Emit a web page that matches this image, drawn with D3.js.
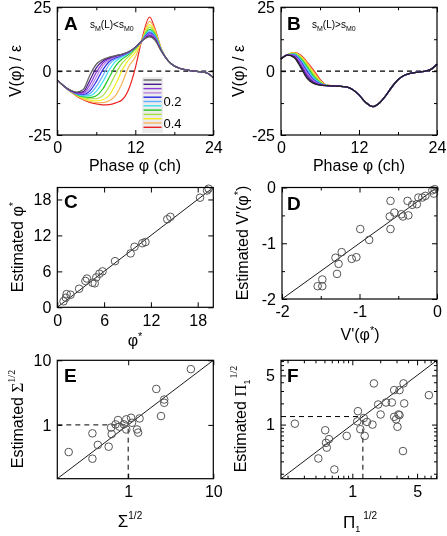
<!DOCTYPE html>
<html><head><meta charset="utf-8">
<script src="https://cdn.jsdelivr.net/npm/d3@7"></script>
<style>
body{margin:0;background:#fff}
svg{display:block;will-change:transform}
text{font-family:"Liberation Sans",Arial,Helvetica,sans-serif;fill:#000}
</style>
</head><body>
<svg id="fig" width="447" height="536"></svg>
<script>
// ================= DATA =================
// Panel A : potential curves V(phi)/eps for s values (legend 0 ... 0.44)
const sValues = [0, 0.04, 0.08, 0.12, 0.16, 0.2, 0.24, 0.28, 0.32, 0.36, 0.4, 0.44];
const sLabels = ["0.2", "0.4"];
const curveColors = ["#606060","#4b1a8c","#8a3ad8","#b783e6","#2a2ae6","#62acff",
                     "#3fe3f0","#22c822","#a6e040","#f2ee1e","#f5b45a","#ec2323"];
const phaseHeadA = [0,1,2,3,4,5,6,7,8,9,10,11,12,13,14.2,15,16];
const phaseTailA = [17,18,19,20,21,22,23,24];
const tailA = [4.2,2.0,1.0,0.4,0.0,-0.2,-0.7,-2.5];
const potA0  = [-3.5,-5.8,-7.4,-8.2,-7.2,-1.6,2.7,4.6,5.5,6.1,6.7,7.6,9.2,11.8,13.4,12.2,7.8];
const potA1  = [-3.5,-5.8,-7.5,-8.4,-8.0,-3.6,1.3,4.0,5.2,6.0,6.6,7.6,9.3,11.8,13.8,12.5,7.9];
const potA2  = [-3.5,-5.8,-7.6,-8.6,-8.5,-5.3,-0.5,3.2,4.9,5.8,6.5,7.5,9.3,11.8,14.2,12.8,8.0];
const potA3  = [-3.5,-5.8,-7.6,-8.7,-8.8,-6.7,-2.3,2.2,4.5,5.6,6.4,7.5,9.3,11.8,14.6,13.1,8.0];
const potA4  = [-3.5,-5.8,-7.7,-8.8,-9.1,-7.8,-4.1,0.5,3.8,5.3,6.2,7.4,9.3,11.8,15.0,13.4,8.1];
const potA5  = [-3.5,-5.8,-7.7,-8.9,-9.4,-8.8,-6.0,-1.8,2.7,4.8,5.9,7.2,9.2,11.8,15.4,13.7,8.2];
const potA6  = [-3.5,-5.8,-7.7,-9.0,-9.7,-9.6,-7.9,-4.2,0.5,3.9,5.5,7.0,9.1,11.9,15.9,14.1,8.3];
const potA7  = [-3.5,-5.8,-7.8,-9.2,-10.0,-10.3,-9.6,-7.0,-2.4,2.2,4.8,6.6,8.9,11.9,16.4,14.5,8.4];
const potA8  = [-3.5,-5.8,-7.8,-9.3,-10.3,-10.8,-10.8,-9.6,-6.0,-1.0,3.2,5.8,8.4,12.0,17.2,15.0,8.5];
const potA9  = [-3.5,-5.8,-7.9,-9.5,-10.7,-11.4,-11.6,-11.2,-9.4,-5.0,0.5,4.5,7.3,12.0,18.2,15.5,8.6];
const potA10 = [-3.5,-5.9,-7.9,-9.6,-11.0,-11.9,-12.3,-12.3,-11.6,-9.4,-4.5,1.8,5.5,12.0,19.5,16.2,8.7];
const potA11 = [-3.5,-5.9,-8.0,-9.8,-11.2,-12.2,-12.8,-13.2,-13.1,-12.4,-11.2,-7.0,1.2,12.3,21.2,16.8,8.8];

// Panel B
const phaseHeadB = [0,1,2,3,4,5,6,7];
const phaseTailB = [8,9,10,11,12,13,14.2,15,16,17,18,19,20,21,22,23,24];
const tailB = [-5.8,-5.9,-6.2,-7.2,-9.3,-12.2,-13.9,-12.8,-10.0,-6.4,-3.4,-1.6,-0.8,-0.4,-0.1,0.6,2.7];
const potB0  = [4.8,6.3,5.4,1.6,-2.8,-4.8,-5.5,-5.7];
const potB1  = [4.8,6.3,5.7,2.2,-2.1,-4.5,-5.4,-5.7];
const potB2  = [4.8,6.4,5.9,2.8,-1.4,-4.2,-5.3,-5.7];
const potB3  = [4.8,6.4,6.1,3.3,-0.8,-3.8,-5.2,-5.7];
const potB4  = [4.8,6.4,6.3,3.8,-0.1,-3.4,-5.0,-5.7];
const potB5  = [4.8,6.4,6.5,4.2,0.5,-3.0,-4.9,-5.6];
const potB6  = [4.8,6.5,6.7,4.6,1.1,-2.5,-4.7,-5.6];
const potB7  = [4.8,6.5,6.8,5.0,1.7,-2.0,-4.5,-5.6];
const potB8  = [4.8,6.5,6.9,5.4,2.3,-1.4,-4.2,-5.6];
const potB9  = [4.8,6.5,7.0,5.7,2.8,-0.8,-3.9,-5.5];
const potB10 = [4.8,6.5,7.1,6.0,3.2,-0.2,-3.6,-5.5];
const potB11 = [4.8,6.5,7.2,6.3,3.6,0.4,-3.2,-5.4];

// Panel C
const phiTrue = [0.8,1.1,1.2,1.7,2.8,3.6,3.8,4.5,4.8,5.0,5.4,5.8,7.4,9.4,9.9,10.9,11.3,14.1,14.5,18.3,19.2,19.4];
const phiEst  = [1.0,1.6,2.2,2.1,3.1,4.4,4.8,4.1,4.0,5.0,5.6,6.0,7.7,9.0,10.1,10.7,10.9,14.7,15.1,18.3,19.5,19.8];

// Panel D
const slopeTrue = [-1.54,-1.48,-1.48,-1.29,-1.27,-1.31,-1.23,-1.10,-1.04,-0.99,-0.875,-0.60,-0.61,-0.60,-0.55,-0.46,-0.44,-0.38,-0.37,-0.32,-0.26,-0.24,-0.19,-0.15,-0.06,-0.04,-0.03];
const slopeEst  = [-1.77,-1.77,-1.65,-1.55,-1.37,-1.26,-1.16,-1.28,-1.25,-0.745,-0.94,-0.24,-0.52,-0.745,-0.45,-0.48,-0.52,-0.24,-0.50,-0.31,-0.30,-0.18,-0.18,-0.15,-0.05,-0.11,-0.03];

// Panel E
const sigmaTrue = [0.20,0.38,0.38,0.44,0.59,0.63,0.64,0.71,0.76,0.79,0.89,0.95,0.95,1.08,1.11,1.27,1.31,1.36,2.14,2.43,2.65,2.65,5.45];
const sigmaEst  = [0.38,0.74,0.30,0.49,0.46,0.91,0.72,1.02,1.19,0.94,1.02,0.85,1.22,1.29,1.08,0.85,0.76,1.26,3.6,1.37,2.47,2.2,7.3];
const sigmaRef = 1;

// Panel F
const piTrue = [0.24,0.43,0.51,0.52,0.53,0.56,0.64,0.87,1.15,1.13,1.22,1.33,1.36,1.44,1.65,1.71,1.9,2.02,2.31,2.67,2.83,2.83,2.97,3.07,3.15,3.23,3.23,3.52,3.57,3.63,6.7];
const piEst  = [1.03,0.33,0.83,0.55,0.47,0.62,0.23,0.69,1.55,1.11,0.86,1.24,0.69,1.09,1.0,3.85,1.93,1.39,2.06,2.06,3.09,1.29,1.19,0.93,1.39,3.09,1.36,0.42,3.85,2.0,2.62];
const piRef = 1.3;

// Axis ticks
const ticksAx = [0,12,24], minorAx = [6,18];
const ticksAy = [-25,0,25], minorAy = [-12.5,12.5];
const ticksC = [0,6,12,18];
const ticksD = [-2,-1,0], minorD = [-1.5,-0.5];
const ticksE = [1,10];
const ticksF = [1,5], minorF = [0.2,0.3,0.4,0.5,0.6,0.7,0.8,0.9,2,3,4,6,7,8];

// ================= DRAWING =================
const svg = d3.select("#fig");
const FS = 16;

function frame(x, y, o) {
  const g = svg.append("g");
  const [xl, xr] = x.range(), [yb, yt] = y.range();
  const TL = 5;
  const clean = s => s.call(a => a.select(".domain").remove())
                      .call(a => a.selectAll("line").attr("stroke","#000").attr("stroke-width",1));
  const all = (vals, minor) => {
    const size = minor ? -3 : -TL;
    g.append("g").attr("transform",`translate(0,${yb})`)
      .call(d3.axisBottom(x).tickValues(vals.x).tickSize(size).tickSizeOuter(0).tickPadding(7)
        .tickFormat(minor ? "" : (o.xFmt || (d=>d)))).call(clean)
      .selectAll("text").attr("font-size",FS).attr("font-family","Liberation Sans, Arial, sans-serif");
    g.append("g").attr("transform",`translate(0,${yt})`)
      .call(d3.axisTop(x).tickValues(vals.x).tickSize(size).tickSizeOuter(0).tickFormat("")).call(clean);
    g.append("g").attr("transform",`translate(${xl},0)`)
      .call(d3.axisLeft(y).tickValues(vals.y).tickSize(size).tickSizeOuter(0).tickPadding(6)
        .tickFormat(minor ? "" : (o.yFmt || (d=>d)))).call(clean)
      .selectAll("text").attr("font-size",FS).attr("font-family","Liberation Sans, Arial, sans-serif");
    g.append("g").attr("transform",`translate(${xr},0)`)
      .call(d3.axisRight(y).tickValues(vals.y).tickSize(size).tickSizeOuter(0).tickFormat("")).call(clean);
  };
  all({x:o.xt, y:o.yt}, false);
  if (o.xm || o.ym) all({x:o.xm||[], y:o.ym||[]}, true);
  return g;
}
function border(x, y) {
  const [xl, xr] = x.range(), [yb, yt] = y.range();
  svg.append("rect").attr("x",xl).attr("y",yt).attr("width",xr-xl).attr("height",yb-yt)
    .attr("fill","none").attr("stroke","#000").attr("stroke-width",1.2);
}
function letter(t, px, py) {
  svg.append("text").attr("x",px).attr("y",py).attr("font-size",19).attr("font-weight","bold").text(t);
}
const fmtMinus = d => (d < 0 ? "-" + Math.abs(d) : "" + d);

// ---------- Panel A ----------
const xA = d3.scaleLinear([0,24],[57.3,213.3]);
const yA = d3.scaleLinear([-25,25],[135,7.3]);
frame(xA, yA, {xt:ticksAx, yt:ticksAy, xm:minorAx, ym:minorAy, yFmt:fmtMinus});
svg.append("line").attr("x1",xA(0)).attr("x2",xA(24)).attr("y1",yA(0)).attr("y2",yA(0))
  .attr("stroke","#000").attr("stroke-width",1.2).attr("stroke-dasharray","5,4");
const potA = [potA0,potA1,potA2,potA3,potA4,potA5,potA6,potA7,potA8,potA9,potA10,potA11];
const lineA = d3.line().x(d=>xA(d[0])).y(d=>yA(d[1])).curve(d3.curveMonotoneX);
potA.map((v,i)=>({v,i})).reverse().forEach(({v,i}) => {
  const pts = phaseHeadA.map((p,j)=>[p,v[j]]).concat(phaseTailA.map((p,j)=>[p,tailA[j]]));
  svg.append("path").attr("d",lineA(pts)).attr("fill","none")
    .attr("stroke",curveColors[i]).attr("stroke-width",1.2);
});
// legend
const legY = d3.scaleLinear([0,0.44],[80,127.3]);
svg.append("rect").attr("x",142).attr("y",77).attr("width",21).attr("height",56).attr("fill","#ececec");
sValues.forEach((s,i)=>{
  svg.append("line").attr("x1",143.5).attr("x2",161.5).attr("y1",legY(s)).attr("y2",legY(s))
    .attr("stroke",curveColors[i]).attr("stroke-width",1.4);
});
sLabels.forEach(l=>{
  svg.append("text").attr("x",163.5).attr("y",legY(+l)).attr("dy","0.35em").attr("font-size",13).text(l);
});
letter("A", 64, 30);
const annA = svg.append("text").attr("x",90).attr("y",28).attr("font-size",10);
annA.append("tspan").text("s");
annA.append("tspan").attr("dy",3).attr("font-size",7).text("M");
annA.append("tspan").attr("dy",-3).text("(L)<s");
annA.append("tspan").attr("dy",3).attr("font-size",7).text("M0");
svg.append("text").attr("transform","translate(21,71) rotate(-90)").attr("text-anchor","middle")
  .attr("font-size",FS).text("V(φ) / ε");
svg.append("text").attr("x",135).attr("y",171).attr("text-anchor","middle").attr("font-size",FS).text("Phase φ (ch)");
border(xA, yA);

// ---------- Panel B ----------
const xB = d3.scaleLinear([0,24],[281,437]);
const yB = d3.scaleLinear([-25,25],[135,7.3]);
frame(xB, yB, {xt:ticksAx, yt:ticksAy, xm:minorAx, ym:minorAy, yFmt:fmtMinus});
svg.append("line").attr("x1",xB(0)).attr("x2",xB(24)).attr("y1",yB(0)).attr("y2",yB(0))
  .attr("stroke","#000").attr("stroke-width",1.2).attr("stroke-dasharray","5,4");
const potB = [potB0,potB1,potB2,potB3,potB4,potB5,potB6,potB7,potB8,potB9,potB10,potB11];
const lineB = d3.line().x(d=>xB(d[0])).y(d=>yB(d[1])).curve(d3.curveMonotoneX);
potB.map((v,i)=>({v,i})).reverse().forEach(({v,i}) => {
  const pts = phaseHeadB.map((p,j)=>[p,v[j]]).concat(phaseTailB.map((p,j)=>[p,tailB[j]]));
  svg.append("path").attr("d",lineB(pts)).attr("fill","none")
    .attr("stroke",i===0?"#222":curveColors[i]).attr("stroke-width",1.3);
});
letter("B", 287, 30);
const annB = svg.append("text").attr("x",312).attr("y",28).attr("font-size",10);
annB.append("tspan").text("s");
annB.append("tspan").attr("dy",3).attr("font-size",7).text("M");
annB.append("tspan").attr("dy",-3).text("(L)>s");
annB.append("tspan").attr("dy",3).attr("font-size",7).text("M0");
svg.append("text").attr("transform","translate(244,71) rotate(-90)").attr("text-anchor","middle")
  .attr("font-size",FS).text("V(φ) / ε");
svg.append("text").attr("x",359).attr("y",171).attr("text-anchor","middle").attr("font-size",FS).text("Phase φ (ch)");
border(xB, yB);

// ---------- scatter helper ----------
function scatter(x, y, xs, ys) {
  svg.append("g").selectAll("circle").data(xs.map((v,i)=>[v,ys[i]])).join("circle")
    .attr("cx",d=>x(d[0])).attr("cy",d=>y(d[1])).attr("r",3.8)
    .attr("fill","none").attr("stroke","#555").attr("stroke-width",1);
}
function diag(x, y) {
  const d = x.domain();
  svg.append("line").attr("x1",x(d[0])).attr("y1",y(d[0])).attr("x2",x(d[1])).attr("y2",y(d[1]))
    .attr("stroke","#000").attr("stroke-width",0.9);
}
function refLines(x, y, r) {
  const dx = x.domain()[0], dy = y.domain()[0];
  const st = s => s.attr("stroke","#000").attr("stroke-width",1).attr("stroke-dasharray","5,4");
  st(svg.append("line").attr("x1",x(dx)).attr("x2",x(r)).attr("y1",y(r)).attr("y2",y(r)));
  st(svg.append("line").attr("x1",x(r)).attr("x2",x(r)).attr("y1",y(dy)).attr("y2",y(r)));
}

// ---------- Panel C ----------
const xC = d3.scaleLinear([0,20],[57.3,213.3]);
const yC = d3.scaleLinear([0,20],[307.3,187.5]);
frame(xC, yC, {xt:ticksC, yt:ticksC});
diag(xC, yC);
scatter(xC, yC, phiTrue, phiEst);
letter("C", 64, 208);
const tC = svg.append("text").attr("transform","translate(23,247) rotate(-90)").attr("text-anchor","middle").attr("font-size",FS);
tC.append("tspan").text("Estimated φ");
tC.append("tspan").attr("dy",-6).attr("font-size",11).text("*");
const xtC = svg.append("text").attr("x",135).attr("y",346).attr("text-anchor","middle").attr("font-size",FS);
xtC.append("tspan").text("φ");
xtC.append("tspan").attr("dy",-6).attr("font-size",11).text("*");
border(xC, yC);

// ---------- Panel D ----------
const xD = d3.scaleLinear([-2,0],[282,437]);
const yD = d3.scaleLinear([-2,0],[299,187.5]);
frame(xD, yD, {xt:ticksD, yt:ticksD, xm:minorD, ym:minorD, xFmt:fmtMinus, yFmt:fmtMinus});
diag(xD, yD);
scatter(xD, yD, slopeTrue, slopeEst);
letter("D", 287, 210);
const tD = svg.append("text").attr("transform","translate(248,243) rotate(-90)").attr("text-anchor","middle").attr("font-size",FS);
tD.append("tspan").text("Estimated V'(φ");
tD.append("tspan").attr("dy",-6).attr("font-size",11).text("*");
tD.append("tspan").attr("dy",6).text(")");
const xtD = svg.append("text").attr("x",360).attr("y",340).attr("text-anchor","middle").attr("font-size",FS);
xtD.append("tspan").text("V'(φ");
xtD.append("tspan").attr("dy",-6).attr("font-size",11).text("*");
xtD.append("tspan").attr("dy",6).text(")");
border(xD, yD);

// ---------- Panel E ----------
const xE = d3.scaleLog([0.147,10],[57.3,213.3]);
const yE = d3.scaleLog([0.147,10],[478.7,360.3]);
frame(xE, yE, {xt:ticksE, yt:ticksE, xFmt:d=>d, yFmt:d=>d});
diag(xE, yE);
refLines(xE, yE, sigmaRef);
scatter(xE, yE, sigmaTrue, sigmaEst);
letter("E", 64, 382);
const tE = svg.append("text").attr("transform","translate(23,419) rotate(-90)").attr("text-anchor","middle").attr("font-size",FS);
tE.append("tspan").text("Estimated ");
tE.append("tspan").attr("font-family","Liberation Serif, Times New Roman, serif").attr("font-size",17).text("Σ");
tE.append("tspan").attr("dy",-8).attr("font-size",10).attr("font-family","Liberation Serif, serif").text("1/2");
const xtE = svg.append("text").attr("x",130).attr("y",527).attr("text-anchor","middle").attr("font-family","Liberation Serif, Times New Roman, serif").attr("font-size",17);
xtE.append("tspan").text("Σ");
xtE.append("tspan").attr("dy",-8).attr("font-size",10).text("1/2");
border(xE, yE);

// ---------- Panel F ----------
const xF = d3.scaleLog([0.17,8.2],[281,437]);
const yF = d3.scaleLog([0.17,8.2],[478.7,360.3]);
frame(xF, yF, {xt:ticksF, yt:ticksF, xm:minorF, ym:minorF, xFmt:d=>d, yFmt:d=>d});
diag(xF, yF);
refLines(xF, yF, piRef);
scatter(xF, yF, piTrue, piEst);
letter("F", 287, 382);
const tF = svg.append("text").attr("transform","translate(246,419) rotate(-90)").attr("text-anchor","middle").attr("font-size",FS);
tF.append("tspan").text("Estimated ");
tF.append("tspan").attr("font-family","Liberation Serif, Times New Roman, serif").attr("font-size",17).text("Π");
tF.append("tspan").attr("dy",4).attr("font-size",9).text("1");
tF.append("tspan").attr("dy",-13).attr("dx",1).attr("font-size",10).attr("font-family","Liberation Serif, serif").text("1/2");
const xtF = svg.append("text").attr("x",360).attr("y",528).attr("text-anchor","middle").attr("font-family","Liberation Serif, Times New Roman, serif").attr("font-size",17);
xtF.append("tspan").text("Π");
xtF.append("tspan").attr("dy",4).attr("font-size",9).attr("font-family","Liberation Sans, Arial, sans-serif").text("1");
xtF.append("tspan").attr("dy",-13).attr("dx",3).attr("font-size",10).text("1/2");
border(xF, yF);
</script>
</body></html>
